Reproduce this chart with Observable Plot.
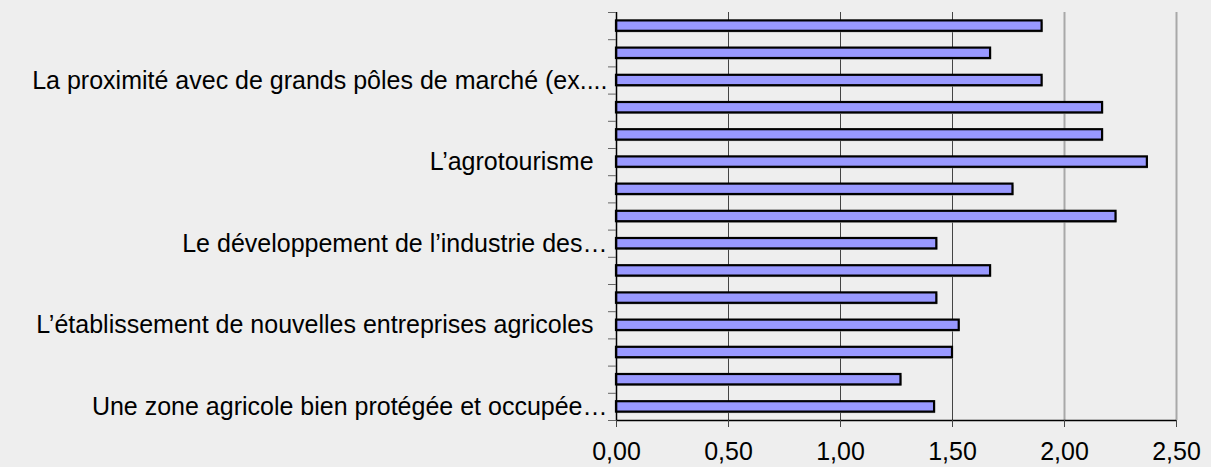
<!DOCTYPE html>
<html>
<head>
<meta charset="utf-8">
<script src="https://cdn.jsdelivr.net/npm/d3@7"></script>
<script src="https://cdn.jsdelivr.net/npm/@observablehq/plot@0.6"></script>
<style>
  html, body { margin: 0; padding: 0; background: #eeeeee; }
  #chart svg { display: block; }
</style>
</head>
<body>
<div id="chart"></div>
<script>
// Categories from top to bottom (only every third label is shown in the original)
const categories = [
  null,
  null,
  "La proximité avec de grands pôles de marché (ex....",
  null,
  null,
  "L’agrotourisme\u00a0\u00a0",
  null,
  null,
  "Le développement de l’industrie des…",
  null,
  null,
  "L’établissement de nouvelles entreprises agricoles\u00a0\u00a0",
  null,
  null,
  "Une zone agricole bien protégée et occupée…"
];
const values = [1.90, 1.67, 1.90, 2.17, 2.17, 2.37, 1.77, 2.23, 1.43, 1.67, 1.43, 1.53, 1.50, 1.27, 1.42];
const xTicks = [0, 0.5, 1, 1.5, 2, 2.5];
const xTickLabels = ["0,00", "0,50", "1,00", "1,50", "2,00", "2,50"];

const data = values.map((v, i) => ({i, value: v, name: categories[i]}));
const labelPositions = data.filter(d => d.name).map(d => d.i + 0.5);
const boundaries = d3.range(0, categories.length + 1);

const font = "'Liberation Sans', Arial, sans-serif";

const chart = Plot.plot({
  width: 1211,
  height: 467,
  marginLeft: 616,
  marginRight: 35,
  marginTop: 12,
  marginBottom: 47,
  style: {background: "#eeeeee", fontFamily: font, fontSize: "25px", color: "black", overflow: "visible"},
  x: {domain: [0, 2.5], axis: null},
  y: {domain: [0, categories.length], reverse: true, axis: null},
  marks: [
    Plot.ruleX([0.5, 1, 1.5], {stroke: "#444", strokeWidth: 1}),
    Plot.ruleX([2, 2.5], {stroke: "#a8a8a8", strokeWidth: 2}),
    // bar shadows
    Plot.rectX(data, {x1: 0, x2: "value", y1: "i", y2: d => d.i + 1, insetTop: 8.4, insetBottom: 8.4, dx: 1, dy: 1.5, fill: "#a0a0a0"}),
    Plot.rectX(data, {x1: 0, x2: "value", y1: "i", y2: d => d.i + 1, insetTop: 8.4, insetBottom: 8.4, fill: "#9999ff", stroke: "black", strokeWidth: 2.2}),
    Plot.ruleX([0], {stroke: "black", strokeWidth: 1.5}),
    Plot.ruleY([categories.length], {stroke: "black", strokeWidth: 1.5}),
    Plot.axisY({ticks: boundaries, tickSize: 8, tickFormat: () => "", stroke: "#666", label: null}),
    Plot.axisY({ticks: labelPositions, tickSize: 0, tickPadding: 9, fontSize: 25, fill: "black", label: null,
      tickFormat: v => categories[Math.round(v - 0.5)] || ""}),
    Plot.axisX({ticks: xTicks, tickSize: 7, tickPadding: 15, fontSize: 25, stroke: "#444", fill: "black", label: null,
      tickFormat: v => xTickLabels[xTicks.indexOf(v)]})
  ]
});
document.getElementById("chart").appendChild(chart);
</script>
</body>
</html>
